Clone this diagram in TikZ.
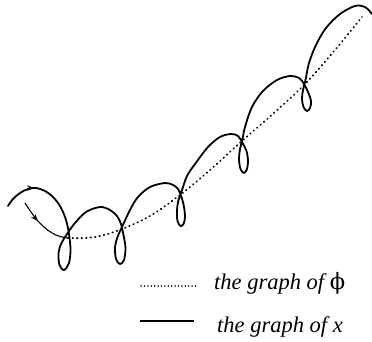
\documentclass[tikz,border=0pt]{standalone}
\usepackage{fontspec}
\setmainfont{Liberation Serif}
\newfontfamily\dvs{DejaVu Serif}
\usetikzlibrary{decorations.markings,arrows.meta}
\begin{document}
\begin{tikzpicture}[x=1pt,y=-1pt,
  xcurve/.style={line width=1.8pt, line join=round, line cap=round},
  phistart/.style={line width=1.1pt, line cap=round},
  phidots/.style={line width=1.8pt, line cap=round, dash pattern=on 0.6pt off 3.9pt},
  legdots/.style={line width=1.2pt, line cap=round, dash pattern=on 0.2pt off 3.2pt},
  legtext/.style={anchor=base west, inner sep=0pt, font=\fontsize{22.5}{27}\selectfont\itshape},
  tipmark/.style={postaction={decorate}, decoration={markings,
     mark=at position #1 with {\arrow{Stealth[length=7pt,width=5.5pt]}}}}
]
\useasboundingbox (0,0) rectangle (372,342);

% graph of phi: short solid start with arrow, then dotted
\draw[phistart, tipmark=22pt] plot[smooth, tension=0.6] coordinates
  {(25,203) (31,212) (37,220) (44,227) (52,233) (60,236.5) (68,238)};
\draw[phidots] plot[smooth, tension=0.6] coordinates
  {(68,238) (85,238) (100,236) (122,229) (150,216) (180,195) (210,170)
   (242,141) (275,112) (305,84) (335,50) (362,17)};

% graph of x
\draw[xcurve, tipmark=33pt] plot[smooth, tension=0.55] coordinates
  {(8,206) (13,199) (20,193) (28,189) (36,188) (45,191) (53,197) (60,206)
   (65,217) (68,228) (69.5,238) (70.5,250) (69,263) (64,270) (59.5,265)
   (58.5,253) (61.5,243) (67,234) (75,223) (86,212) (100,207) (110,210)
   (117,216) (121,224) (123.5,235) (125.5,248) (124,260) (120,264) (116,259)
   (115,247) (117.5,237) (122,227) (130,210) (138,197) (150,187) (165,183)
   (173,185) (178,189) (181.5,197) (184,207) (185,217) (183.5,224) (180.5,226)
   (177.5,221) (177,210) (178.5,200) (182,190) (187,176) (195,164) (208,147)
   (220,137) (231,134) (238,136) (242.5,143) (246.5,151) (248,161) (247,169)
   (244,173) (240.5,169) (239,159) (240,149) (242.5,139) (245,127) (252,107)
   (263,91) (277,80) (290,76) (299,78) (304,84) (308,92) (311,101) (310,108)
   (307,111) (303.5,107) (302,99) (303,90) (305.5,80) (309,63) (316,45)
   (326,28) (340,14) (355,6) (365,7) (372,14)};

% legend
\draw[legdots] (141,286) -- (196,286);
\node[legtext] (lphi) at (214,289) {the graph of {\dvs\upshape ϕ}};
\draw[xcurve, line cap=butt] (140,321) -- (194,321);
\node[legtext] (lx) at (217,332) {the graph of x};
\end{tikzpicture}
\end{document}
